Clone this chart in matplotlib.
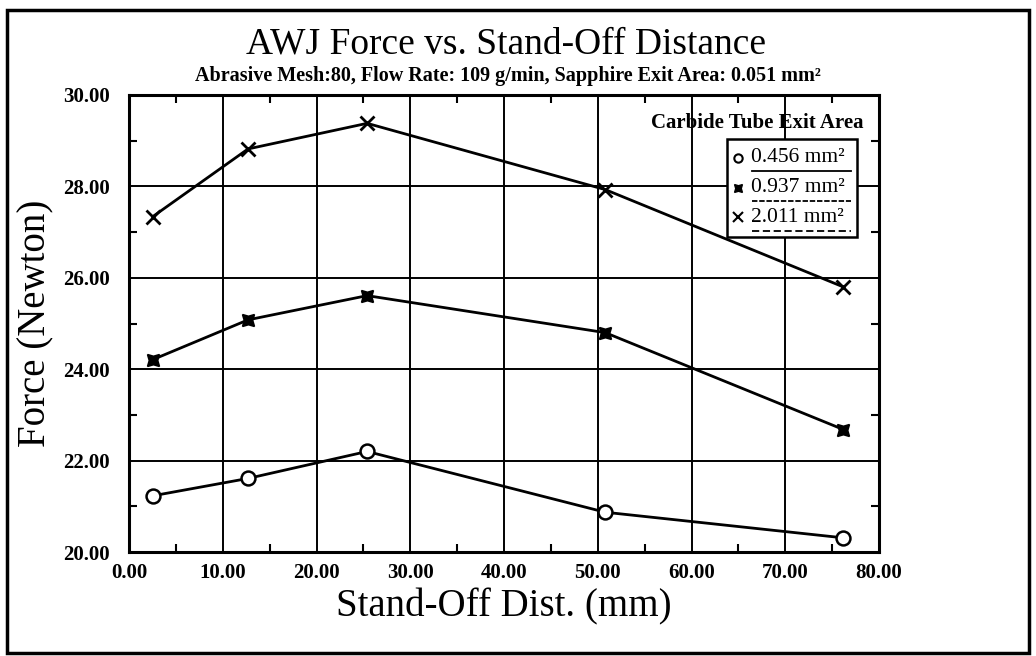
import matplotlib
matplotlib.use("Agg")
import matplotlib.pyplot as plt
from matplotlib.patches import Rectangle
from matplotlib.ticker import MultipleLocator, FormatStrFormatter

# ---- data ----
standoff_mm = [2.54, 12.7, 25.4, 50.8, 76.2]
force_0456 = [21.23, 21.61, 22.20, 20.87, 20.31]
force_0937 = [24.21, 25.08, 25.61, 24.80, 22.68]
force_2011 = [27.34, 28.82, 29.38, 27.93, 25.80]
series_labels = ["0.456 mm²", "0.937 mm²", "2.011 mm²"]
legend_title = "Carbide Tube Exit Area"
title = "AWJ Force vs. Stand-Off Distance"
subtitle = "Abrasive Mesh:80, Flow Rate: 109 g/min, Sapphire Exit Area: 0.051 mm²"
xlabel = "Stand-Off Dist. (mm)"
ylabel = "Force (Newton)"

SERIF = "Liberation Serif"
plt.rcParams["font.family"] = [SERIF, "DejaVu Serif"]

W, H = 1036, 656
fig = plt.figure(figsize=(W / 100, H / 100), dpi=100)
L, R, T, B = 129, 879, 95, 552
ax = fig.add_axes([L / W, 1 - B / H, (R - L) / W, (B - T) / H])

styles = [
    dict(marker="o", markersize=10, markerfacecolor="white", markeredgewidth=1.8),
    dict(marker=(4, 1, 45), markersize=12, markerfacecolor="black", markeredgewidth=1.2),
    dict(marker="x", markersize=10, markeredgewidth=2.0),
]
for ys, st in zip([force_0456, force_0937, force_2011], styles):
    ax.plot(standoff_mm, ys, color="black", linewidth=2.0, zorder=3, **st)

ax.set_xlim(0, 80)
ax.set_ylim(20, 30)
ax.xaxis.set_major_locator(MultipleLocator(10))
ax.xaxis.set_minor_locator(MultipleLocator(5))
ax.yaxis.set_major_locator(MultipleLocator(2))
ax.yaxis.set_minor_locator(MultipleLocator(1))
ax.xaxis.set_major_formatter(FormatStrFormatter("%.2f"))
ax.yaxis.set_major_formatter(FormatStrFormatter("%.2f"))
ax.grid(True, which="major", color="black", linewidth=1.4)
ax.tick_params(which="major", length=0, labelsize=15)
ax.tick_params(axis="x", which="major", pad=8)
ax.tick_params(axis="y", which="major", pad=14)
ax.tick_params(which="minor", direction="in", length=6, width=1.5,
               top=True, right=True, bottom=True, left=True)
for lab in ax.get_xticklabels() + ax.get_yticklabels():
    lab.set_fontweight("bold")
for sp in ax.spines.values():
    sp.set_linewidth(2.2)

ax.set_xlabel(xlabel, fontsize=28, labelpad=4)
ax.set_ylabel(ylabel, fontsize=28, labelpad=6)

fig.text(506 / W, 1 - 44 / H, title, ha="center", va="center", fontsize=27)
fig.text(508 / W, 1 - 76 / H, subtitle, ha="center", va="center",
         fontsize=14.5, fontweight="bold")

# ---- legend (manual, Cricket-Graph style) ----
ax.text(0.979, 0.939, legend_title, transform=ax.transAxes, ha="right",
        va="center", fontsize=15, fontweight="bold", zorder=6)
ax.add_patch(Rectangle((0.797, 0.690), 0.174, 0.214, transform=ax.transAxes,
                       facecolor="white", edgecolor="black", linewidth=1.8,
                       zorder=5))
row_y = [0.863, 0.797, 0.732]
dash_styles = ["-", (0, (3, 1)), (0, (4, 2))]
small_styles = [
    dict(marker="o", markersize=6, markerfacecolor="white", markeredgewidth=1.5),
    dict(marker=(4, 1, 45), markersize=8, markerfacecolor="black", markeredgewidth=1),
    dict(marker="x", markersize=7, markeredgewidth=1.5),
]
for lab, yy, ls, st in zip(series_labels, row_y, dash_styles, small_styles):
    ax.plot([0.812], [yy], transform=ax.transAxes, color="black",
            linestyle="none", zorder=7, clip_on=False, **st)
    ax.text(0.829, yy, lab, transform=ax.transAxes, ha="left", va="center",
            fontsize=15.5, zorder=7)
    ax.plot([0.830, 0.962], [yy - 0.03, yy - 0.03], transform=ax.transAxes,
            color="black", linewidth=1.3, linestyle=ls, zorder=7)

# outer frame
fig.add_artist(Rectangle((7 / W, 3 / H), 1022 / W, 643 / H,
                         transform=fig.transFigure, fill=False,
                         edgecolor="black", linewidth=2.5))

fig.savefig("out.png", dpi=100, facecolor="white")
